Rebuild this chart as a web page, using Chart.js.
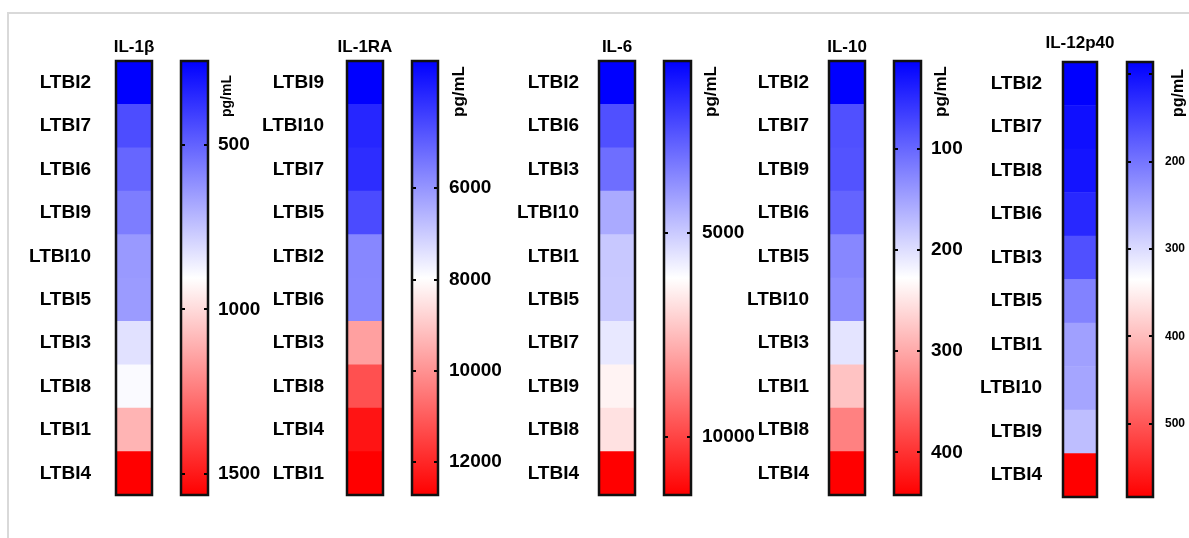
<!DOCTYPE html>
<html>
<head>
<meta charset="utf-8">
<script src="https://cdn.jsdelivr.net/npm/chart.js@4.4.0/dist/chart.umd.min.js"></script>
<style>
  body { margin: 0; background: #fff; width: 1189px; height: 538px; overflow: hidden; position: relative; }
  #frame { position: absolute; left: 7px; top: 12px; width: 1300px; height: 700px; border-left: 2px solid #d9d9d9; border-top: 2px solid #d9d9d9; }
  canvas { position: absolute; }
</style>
</head>
<body>
<div id="frame"></div>
<script>
const titles = ['IL-1\u03b2', 'IL-1RA', 'IL-6', 'IL-10', 'IL-12p40'];
const unitLabel = 'pg/mL';

// IL-1b
const il1bSamples = ['LTBI2', 'LTBI7', 'LTBI6', 'LTBI9', 'LTBI10', 'LTBI5', 'LTBI3', 'LTBI8', 'LTBI1', 'LTBI4'];
const il1bValues = [245, 444, 509, 568, 641, 645, 827, 891, 1098, 1564];
const il1bRange = [245, 1564];
const il1bTicks = [500, 1000, 1500];
const il1bTickLabels = ['500', '1000', '1500'];

// IL-1RA
const il1raSamples = ['LTBI9', 'LTBI10', 'LTBI7', 'LTBI5', 'LTBI2', 'LTBI6', 'LTBI3', 'LTBI8', 'LTBI4', 'LTBI1'];
const il1raValues = [3217, 3925, 4055, 4614, 5732, 5750, 9734, 11225, 12347, 12717];
const il1raRange = [3217, 12717];
const il1raTicks = [6000, 8000, 10000, 12000];
const il1raTickLabels = ['6000', '8000', '10000', '12000'];

// IL-6
const il6Samples = ['LTBI2', 'LTBI6', 'LTBI3', 'LTBI10', 'LTBI1', 'LTBI5', 'LTBI7', 'LTBI9', 'LTBI8', 'LTBI4'];
const il6Values = [780, 2450, 3074, 4325, 4951, 4980, 5618, 6354, 6725, 11415];
const il6Range = [780, 11415];
const il6Ticks = [5000, 10000];
const il6TickLabels = ['5000', '10000'];

// IL-10
const il10Samples = ['LTBI2', 'LTBI7', 'LTBI9', 'LTBI6', 'LTBI5', 'LTBI10', 'LTBI3', 'LTBI1', 'LTBI8', 'LTBI4'];
const il10Values = [13.5, 81, 83, 97.5, 127, 133, 205, 278, 334, 442];
const il10Range = [13.5, 442];
const il10Ticks = [100, 200, 300, 400];
const il10TickLabels = ['100', '200', '300', '400'];

// IL-12p40
const il12Samples = ['LTBI2', 'LTBI7', 'LTBI8', 'LTBI6', 'LTBI3', 'LTBI5', 'LTBI1', 'LTBI10', 'LTBI9', 'LTBI4'];
const il12Values = [86, 101, 106, 125, 164, 213, 242, 247, 272, 584];
const il12Range = [86, 584];
const il12Ticks = [100, 200, 300, 400, 500];
const il12TickLabels = ['', '200', '300', '400', '500'];

const panelData = [
    {samples: il1bSamples, values: il1bValues, range: il1bRange, ticks: il1bTicks, tickLabels: il1bTickLabels},
    {samples: il1raSamples, values: il1raValues, range: il1raRange, ticks: il1raTicks, tickLabels: il1raTickLabels},
    {samples: il6Samples, values: il6Values, range: il6Range, ticks: il6Ticks, tickLabels: il6TickLabels},
    {samples: il10Samples, values: il10Values, range: il10Range, ticks: il10Ticks, tickLabels: il10TickLabels},
    {samples: il12Samples, values: il12Values, range: il12Range, ticks: il12Ticks, tickLabels: il12TickLabels}
];

// where each panel sits on the page (px)
const panelLayout = [
    {cellX: 116, cellY: 61, cellW: 36, cellH: 434, barX: 181, barW: 27, labelGap: 25, tickGap: 10, titleY: 47, unitDx: 19, unitY: 117, unitSize: 14, tickSize: 19},
    {cellX: 347, cellY: 61, cellW: 36, cellH: 434, barX: 412, barW: 26, labelGap: 23, tickGap: 11, titleY: 47, unitDx: 21, unitY: 117, unitSize: 17, tickSize: 19},
    {cellX: 599, cellY: 61, cellW: 36, cellH: 434, barX: 664, barW: 27, labelGap: 20, tickGap: 11, titleY: 47, unitDx: 20, unitY: 117, unitSize: 17, tickSize: 19},
    {cellX: 829, cellY: 61, cellW: 36, cellH: 434, barX: 894, barW: 27, labelGap: 20, tickGap: 10, titleY: 47, unitDx: 20, unitY: 117, unitSize: 17, tickSize: 19},
    {cellX: 1063, cellY: 62, cellW: 34, cellH: 435, barX: 1127, barW: 26, labelGap: 21, tickGap: 12, titleY: 43, unitDx: 26, unitY: 117, unitSize: 16, tickSize: 12}
];

const baseFont = '"Liberation Sans", Arial, sans-serif';
const labelFont = '"Liberation Sans Narrow", "Liberation Sans", Arial, sans-serif';
Chart.defaults.font.family = baseFont;
Chart.defaults.color = '#000';

function heatColor(v, lo, hi) {
    let f = (v - lo) / (hi - lo);
    f = Math.max(0, Math.min(1, f));
    let r, g, b;
    if (f < 0.5) {
        r = g = Math.round(510 * f);
        b = 255;
    } else {
        r = 255;
        g = b = Math.round(510 * (1 - f));
    }
    return 'rgb(' + r + ',' + g + ',' + b + ')';
}

// black outline, inner tick dashes, title and the rotated unit label
const framePlugin = {
    id: 'frame',
    afterDatasetsDraw(chart, args, opts) {
        const a = chart.chartArea;
        const ctx = chart.ctx;
        ctx.save();
        if (opts.ticks) {
            const s = chart.scales.y;
            ctx.strokeStyle = '#000';
            ctx.lineWidth = 2;
            s.ticks.forEach(t => {
                const y = Math.round(s.getPixelForValue(t.value));
                ctx.beginPath();
                ctx.moveTo(a.left, y);
                ctx.lineTo(a.left + 4, y);
                ctx.moveTo(a.right - 4, y);
                ctx.lineTo(a.right, y);
                ctx.stroke();
            });
        }
        ctx.strokeStyle = '#111';
        ctx.lineWidth = 2.5;
        ctx.strokeRect(a.left, a.top, a.right - a.left, a.bottom - a.top);
        ctx.fillStyle = '#000';
        if (opts.title) {
            ctx.font = 'bold 17px ' + baseFont;
            ctx.textAlign = 'center';
            ctx.textBaseline = 'middle';
            ctx.fillText(opts.title.text, (a.left + a.right) / 2, a.top - opts.title.dy);
        }
        if (opts.unit) {
            ctx.translate(a.right + opts.unit.dx, a.top + opts.unit.dy);
            ctx.rotate(-Math.PI / 2);
            ctx.font = 'bold ' + opts.unit.size + 'px ' + baseFont;
            ctx.textAlign = 'left';
            ctx.textBaseline = 'middle';
            ctx.fillText(opts.unit.text, 0, 0);
        }
        ctx.restore();
    }
};

function makeCanvas(left, top, w, h) {
    const c = document.createElement('canvas');
    c.width = w;
    c.height = h;
    c.style.left = left + 'px';
    c.style.top = top + 'px';
    c.style.width = w + 'px';
    c.style.height = h + 'px';
    document.body.appendChild(c);
    return c;
}

function drawHeatmap(d, L, title) {
    const top = L.titleY - 14;
    const right = 40;
    const canvas = makeCanvas(L.cellX - 100, top, 100 + L.cellW + right, L.cellY - top + L.cellH + 3);
    new Chart(canvas, {
        type: 'bar',
        data: {
            labels: d.samples,
            datasets: [{
                data: d.samples.map(() => [0, 1]),
                backgroundColor: d.values.map(v => heatColor(v, d.range[0], d.range[1])),
                borderWidth: 0,
                barPercentage: 1,
                categoryPercentage: 1
            }]
        },
        options: {
            indexAxis: 'y',
            responsive: false,
            animation: false,
            devicePixelRatio: 1,
            layout: {padding: {left: 0, right: right, top: L.cellY - top, bottom: 3}},
            plugins: {
                legend: {display: false},
                tooltip: {enabled: false},
                frame: {ticks: false, title: {text: title, dy: L.cellY - L.titleY}}
            },
            scales: {
                x: {display: false, min: 0, max: 1},
                y: {
                    grid: {display: false, drawTicks: false},
                    border: {display: false},
                    ticks: {padding: L.labelGap, autoSkip: false, font: {family: labelFont, size: 19, weight: 'bold'}},
                    afterFit: s => { s.width = 100; s.paddingTop = 0; s.paddingBottom = 0; }
                }
            }
        },
        plugins: [framePlugin]
    });
}

function drawColorBar(d, L) {
    const canvas = makeCanvas(L.barX - 3, L.cellY - 3, 3 + L.barW + 70, L.cellH + 6);
    new Chart(canvas, {
        type: 'bar',
        data: {
            labels: [''],
            datasets: [{
                data: [[d.range[0], d.range[1]]],
                backgroundColor: function (c) {
                    const a = c.chart.chartArea;
                    if (!a) return '#fff';
                    const s = c.chart.scales.y;
                    const g = c.chart.ctx.createLinearGradient(0, s.getPixelForValue(d.range[0]), 0, s.getPixelForValue(d.range[1]));
                    g.addColorStop(0, heatColor(d.range[0], d.range[0], d.range[1]));
                    g.addColorStop(0.5, '#ffffff');
                    g.addColorStop(1, heatColor(d.range[1], d.range[0], d.range[1]));
                    return g;
                },
                borderWidth: 0,
                barPercentage: 1,
                categoryPercentage: 1
            }]
        },
        options: {
            responsive: false,
            animation: false,
            devicePixelRatio: 1,
            layout: {padding: {left: 3, right: 0, top: 3, bottom: 3}},
            plugins: {
                legend: {display: false},
                tooltip: {enabled: false},
                frame: {ticks: true, unit: {text: unitLabel, dx: L.unitDx, dy: L.unitY - L.cellY, size: L.unitSize}}
            },
            scales: {
                x: {display: false},
                y: {
                    position: 'right',
                    reverse: true,
                    min: d.range[0],
                    max: d.range[1],
                    grid: {display: false, drawTicks: false},
                    border: {display: false},
                    afterBuildTicks: s => { s.ticks = d.ticks.map(v => ({value: v})); },
                    ticks: {
                        padding: L.tickGap,
                        font: {family: L.tickSize > 14 ? labelFont : baseFont, size: L.tickSize, weight: 'bold'},
                        callback: (v, i) => d.tickLabels[i]
                    },
                    afterFit: s => { s.width = 70; s.paddingTop = 0; s.paddingBottom = 0; }
                }
            }
        },
        plugins: [framePlugin]
    });
}

for (let i = 0; i < panelData.length; i++) {
    drawHeatmap(panelData[i], panelLayout[i], titles[i]);
    drawColorBar(panelData[i], panelLayout[i]);
}
</script>
</body>
</html>
